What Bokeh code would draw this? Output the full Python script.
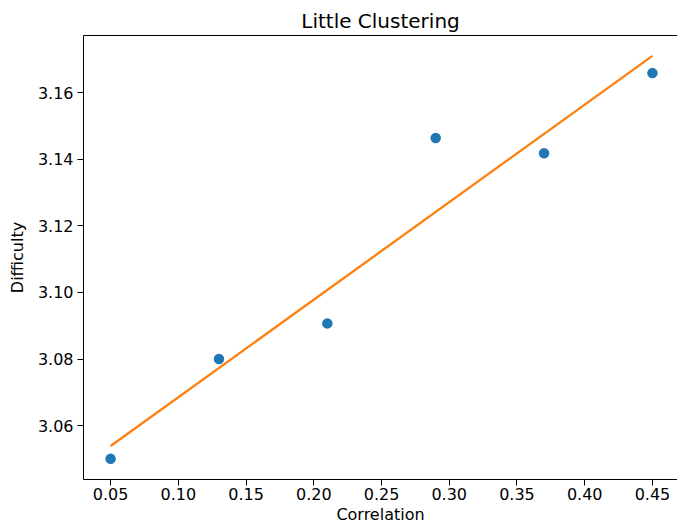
import numpy as np
from bokeh.plotting import figure
from bokeh.models import FixedTicker, Range1d, NumeralTickFormatter, LinearAxis
from bokeh.embed import file_html
from bokeh.resources import INLINE

# Data
correlation = [0.05, 0.13, 0.21, 0.29, 0.37, 0.45]
difficulty = [3.0500, 3.0800, 3.0907, 3.1464, 3.1418, 3.1659]
x_ticks = [0.05, 0.10, 0.15, 0.20, 0.25, 0.30, 0.35, 0.40, 0.45]
y_ticks = [3.06, 3.08, 3.10, 3.12, 3.14, 3.16]

# linear fit
slope, intercept = np.polyfit(correlation, difficulty, 1)
fit_x = [min(correlation), max(correlation)]
fit_y = [slope * v + intercept for v in fit_x]

FONT = "DejaVu Sans"

p = figure(width=677, height=528, output_backend="svg", toolbar_location=None,
           x_range=Range1d(0.03, 0.4685), y_range=Range1d(3.0438, 3.1772),
           min_border_left=83, min_border_right=0, min_border_top=35, min_border_bottom=49,
           title="Little Clustering")

p.title.text_font = FONT
p.title.text_font_size = "20px"
p.title.text_font_style = "normal"
p.title.align = "center"
p.title.text_color = "#000000"
p.title.standoff = 6

p.xgrid.visible = False
p.ygrid.visible = False
p.outline_line_color = None
p.background_fill_color = "white"
p.border_fill_color = "white"

for ax in (p.xaxis[0], p.yaxis[0]):
    ax.axis_line_color = "#000000"
    ax.axis_line_width = 1
    ax.major_tick_line_color = "#000000"
    ax.major_tick_out = 6
    ax.major_tick_in = 0
    ax.minor_tick_line_color = None
    ax.major_label_text_font = FONT
    ax.major_label_text_font_size = "16px"
    ax.major_label_text_color = "#000000"
    ax.axis_label_text_font = FONT
    ax.axis_label_text_font_size = "16px"
    ax.axis_label_text_font_style = "normal"
    ax.axis_label_text_color = "#000000"
    ax.formatter = NumeralTickFormatter(format="0.00")

p.xaxis[0].ticker = FixedTicker(ticks=x_ticks)
p.yaxis[0].ticker = FixedTicker(ticks=y_ticks)
p.xaxis[0].axis_label = "Correlation"
p.yaxis[0].axis_label = "Difficulty"
p.xaxis[0].major_label_standoff = 2
p.yaxis[0].major_label_standoff = 4
p.xaxis[0].axis_label_standoff = 2
p.yaxis[0].axis_label_standoff = 8

# top spine (right spine lies just outside the window in the reference)
top = LinearAxis(ticker=FixedTicker(ticks=[]), axis_line_color="#000000",
                 major_tick_line_color=None, minor_tick_line_color=None,
                 major_label_text_font_size="0px")
p.add_layout(top, "above")

p.scatter(correlation, difficulty, size=10.5, color="#1f77b4", line_color=None)
p.line(fit_x, fit_y, line_color="#ff7f0e", line_width=2.3)

open("out.html", "w").write(file_html(p, INLINE))
